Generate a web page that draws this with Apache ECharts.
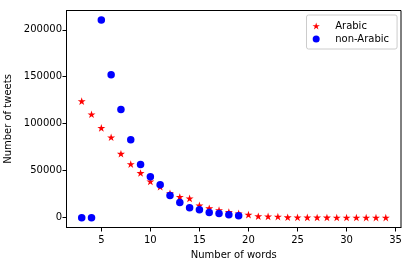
<!DOCTYPE html>
<html>
<head>
<meta charset="utf-8">
<script src="https://cdn.jsdelivr.net/npm/echarts@6/dist/echarts.min.js"></script>
<style>
html,body{margin:0;padding:0;background:#fff;}
#chart{width:411px;height:266px;}
</style>
</head>
<body>
<div id="chart"></div>
<script>
var arabicWords = [3,4,5,6,7,8,9,10,11,12,13,14,15,16,17,18,19,20,21,22,23,24,25,26,27,28,29,30,31,32,33,34];
var arabicTweets = [124000,110000,95500,85500,68000,57000,47500,38500,33000,26000,22000,20500,13000,10000,8000,6000,4500,3200,1500,1300,1100,400,300,250,200,150,120,100,80,60,50,40];
var nonArabicWords = [3,4,5,6,7,8,9,10,11,12,13,14,15,16,17,18,19];
var nonArabicTweets = [0,0,210500,152000,115000,83000,56500,43500,35000,23500,16000,10500,8500,5500,4300,3200,2100];
var xTicks = [5,10,15,20,25,30,35];
var yTicks = [0,50000,100000,150000,200000];

var STAR = 'path://M0,-1L-0.2245,-0.309L-0.951,-0.309L-0.3633,0.118L-0.588,0.809L0,0.382L0.588,0.809L0.3633,0.118L0.951,-0.309L0.2245,-0.309Z';
var FONT = 'DejaVu Sans';

function pairs(xs, ys){ return xs.map(function(x,i){ return [x, ys[i]]; }); }

var chart = echarts.init(document.getElementById('chart'), null, {renderer:'canvas'});
chart.setOption({
  animation:false,
  backgroundColor:'#fff',
  textStyle:{fontFamily:FONT},
  grid:{left:66.5, right:10, top:10.5, bottom:38.5, show:true, borderColor:'#000', borderWidth:1, containLabel:false, outerBoundsMode:'none'},
  xAxis:{
    type:'value', min:1.45, max:35.55,
    name:'Number of words', nameLocation:'middle', nameGap:23,
    nameTextStyle:{fontSize:10, color:'#000', fontFamily:FONT},
    axisLine:{show:true, onZero:false, lineStyle:{color:'#000', width:1}},
    axisTick:{show:true, inside:false, length:4, lineStyle:{color:'#000'}, customValues:xTicks},
    axisLabel:{show:true, margin:7.5, fontSize:10, color:'#000', fontFamily:FONT, customValues:xTicks,
      formatter:function(v){ return String(v); }},
    splitLine:{show:false}
  },
  yAxis:{
    type:'value', min:-10500, max:220500,
    name:'Number of tweets', nameLocation:'middle', nameGap:47,
    nameTextStyle:{fontSize:10, color:'#000', fontFamily:FONT},
    axisLine:{show:true, onZero:false, lineStyle:{color:'#000', width:1}},
    axisTick:{show:true, inside:false, length:4, lineStyle:{color:'#000'}, customValues:yTicks},
    axisLabel:{show:true, margin:4.5, fontSize:10, color:'#000', fontFamily:FONT, customValues:yTicks,
      formatter:function(v){ return String(v); }},
    splitLine:{show:false}
  },
  legend:{
    orient:'vertical', left:306.5, top:15,
    padding:[6,8,5,6], itemGap:3, itemWidth:14, itemHeight:7,
    borderColor:'#cccccc', borderWidth:1, borderRadius:2,
    textStyle:{fontSize:10, color:'#000', fontFamily:FONT, padding:[0,0,0,7]},
    data:[{name:'Arabic', icon:STAR},{name:'non-Arabic', icon:'circle'}]
  },
  series:[
    {name:'Arabic', type:'scatter', symbol:STAR, symbolSize:[8,7.6],
     itemStyle:{color:'#ff0000', opacity:1}, data:pairs(arabicWords, arabicTweets), z:2},
    {name:'non-Arabic', type:'scatter', symbol:'circle', symbolSize:7.5,
     itemStyle:{color:'#0000ff', opacity:1}, data:pairs(nonArabicWords, nonArabicTweets), z:3}
  ]
});
</script>
</body>
</html>
